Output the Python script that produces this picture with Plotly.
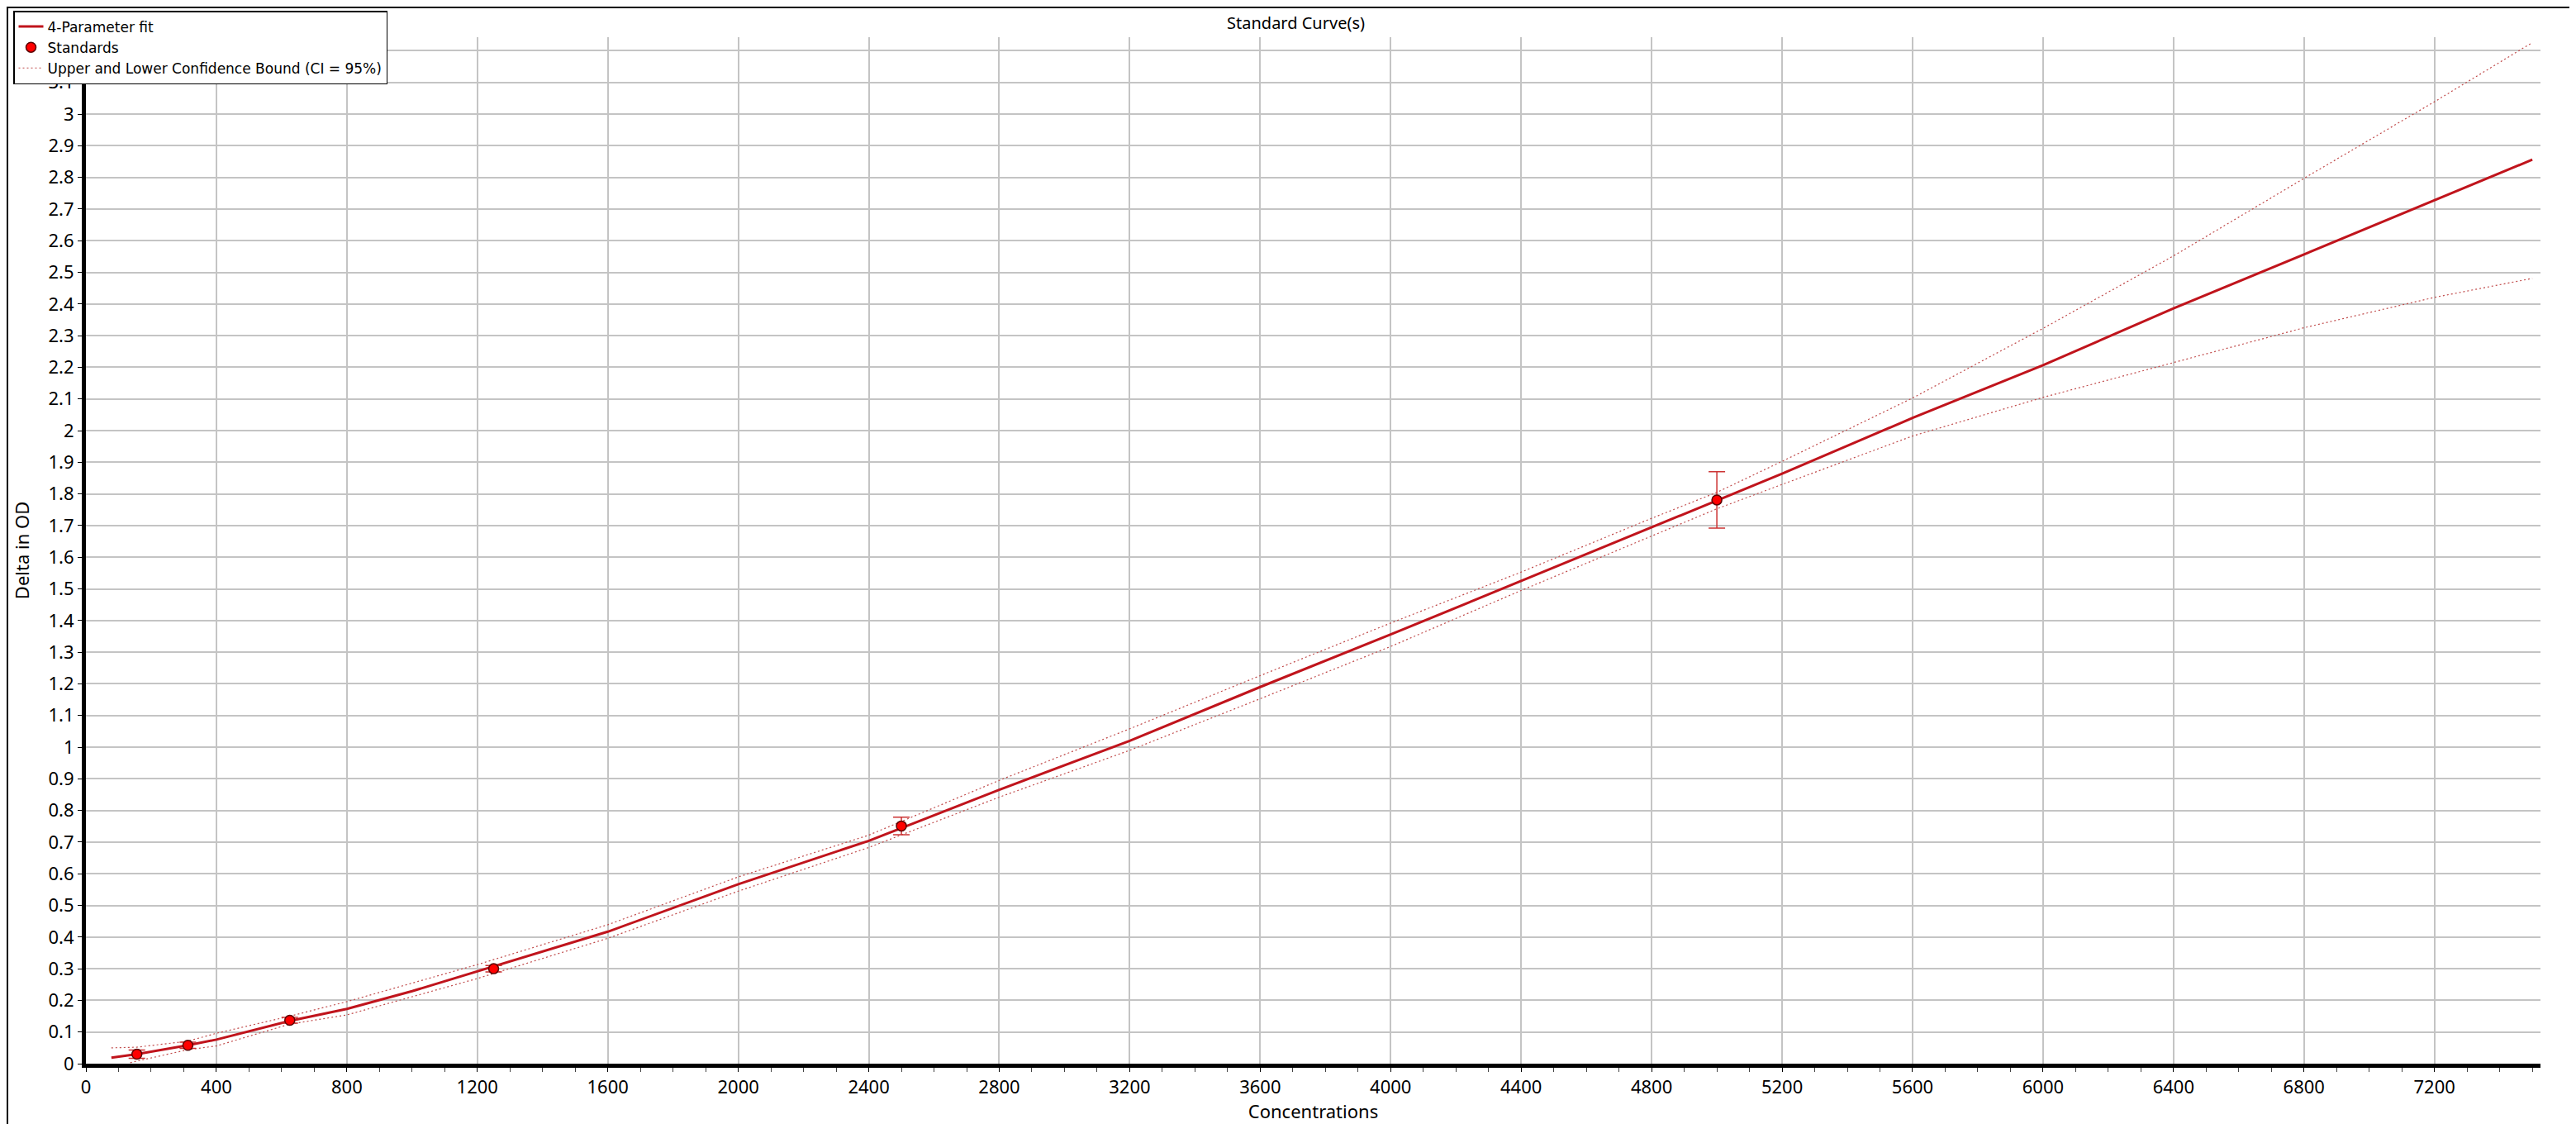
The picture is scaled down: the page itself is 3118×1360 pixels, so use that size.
import plotly.graph_objects as go

# ---- data ----
fit_x = [78, 156, 312, 400, 625, 800, 1000, 1200, 1600, 2000, 2400, 2800, 3200,
         3600, 4000, 4400, 4800, 5000, 5200, 5600, 6000, 6400, 6800, 7200, 7500]
fit_y = [0.019, 0.030, 0.058, 0.076, 0.135, 0.173, 0.229, 0.291, 0.417, 0.567,
         0.704, 0.865, 1.020, 1.190, 1.356, 1.525, 1.695, 1.780, 1.864, 2.040,
         2.207, 2.386, 2.557, 2.727, 2.856]

upper_x = [78, 156, 312, 400, 625, 800, 1200, 1600, 2000, 2400, 2800, 3200,
           3600, 4000, 4400, 4800, 5000, 5200, 5600, 6000, 6400, 6800, 7200, 7500]
upper_y = [0.050, 0.052, 0.071, 0.096, 0.150, 0.196, 0.313, 0.439, 0.590, 0.722,
           0.895, 1.058, 1.226, 1.392, 1.553, 1.723, 1.805, 1.903, 2.103, 2.323,
           2.552, 2.797, 3.039, 3.226]

lower_x = [136, 156, 312, 400, 625, 800, 1200, 1600, 2000, 2400, 2800, 3200,
           3600, 4000, 4400, 4800, 5000, 5200, 5600, 6000, 6400, 6800, 7200, 7500]
lower_y = [0.003, 0.008, 0.044, 0.056, 0.125, 0.154, 0.269, 0.396, 0.545, 0.683,
           0.842, 0.990, 1.153, 1.318, 1.495, 1.668, 1.753, 1.830, 1.983, 2.105,
           2.216, 2.325, 2.421, 2.481]

std_x = [156.25, 312.5, 625, 1250, 2500, 5000]
std_y = [0.030, 0.058, 0.137, 0.300, 0.751, 1.781]
std_err = [0.013, 0.010, 0.009, 0.010, 0.028, 0.089]

x_ticks = [0, 400, 800, 1200, 1600, 2000, 2400, 2800, 3200, 3600, 4000, 4400,
           4800, 5200, 5600, 6000, 6400, 6800, 7200]
y_ticks = [round(i * 0.1, 1) for i in range(33)]
y_labels = [f"{v:g}" for v in y_ticks]

# ---- layout geometry ----
W, H = 3118, 1360
ML, MR, MT, MB = 96, 51, 37, 81
PW, PH = W - ML - MR, H - MT - MB
FONT = "Noto Sans, DejaVu Sans, sans-serif"

FIT_COLOR = "#c0141c"
BOUND_COLOR = "#c04a4a"

fig = go.Figure()

fig.add_trace(go.Scatter(
    x=upper_x, y=upper_y, mode="lines",
    name="Upper and Lower Confidence Bound (CI = 95%)",
    line=dict(color=BOUND_COLOR, width=1.2, dash="2px,3px"),
    legendgroup="ci", legendrank=3))

fig.add_trace(go.Scatter(
    x=lower_x, y=lower_y, mode="lines", name="Lower bound",
    line=dict(color=BOUND_COLOR, width=1.2, dash="2px,3px"),
    legendgroup="ci", showlegend=False))

fig.add_trace(go.Scatter(
    x=fit_x, y=fit_y, mode="lines", name="4-Parameter fit",
    line=dict(color=FIT_COLOR, width=3), legendrank=1))

fig.add_trace(go.Scatter(
    x=std_x, y=std_y, mode="markers", name="Standards",
    marker=dict(color="#ff0000", size=12, line=dict(color="#5a0000", width=1.5)),
    error_y=dict(type="data", array=std_err, visible=True, color="#cc3333",
                 thickness=1.5, width=10),
    legendrank=2))

fig.update_layout(
    width=W, height=H,
    margin=dict(l=ML, r=MR, t=MT, b=MB, pad=0, autoexpand=False),
    paper_bgcolor="white", plot_bgcolor="white",
    font=dict(family=FONT, size=21, color="black"),
    title=dict(text="Standard Curve(s)", x=1537 / W, xref="paper",
               xanchor="center", y=1 - 20 / H, yanchor="middle",
               font=dict(size=20)),
    showlegend=True,
    legend=dict(x=(8 - ML) / PW, y=1 + (MT - 5) / PH, xanchor="left", yanchor="top",
                bgcolor="white", bordercolor="black", borderwidth=1.5,
                font=dict(size=17, family="DejaVu Sans, sans-serif"),
                itemwidth=30, tracegroupgap=0, traceorder="normal"),
    xaxis=dict(range=[0, 7525], tickvals=x_ticks, showgrid=True,
               gridcolor="#c4c4c4", gridwidth=2, zeroline=False,
               showline=True, linecolor="black", linewidth=5,
               ticks="outside", ticklen=5, tickcolor="black", tickwidth=1,
               tickfont=dict(size=22),
               minor=dict(dtick=100, tick0=0, ticks="outside", ticklen=5,
                          tickcolor="#444", tickwidth=1, showgrid=False),
               title=dict(text="Concentrations", font=dict(size=22), standoff=10)),
    yaxis=dict(range=[0, 3.243], tickvals=y_ticks, ticktext=y_labels,
               showgrid=True, gridcolor="#c4c4c4", gridwidth=2, zeroline=False,
               showline=True, linecolor="black", linewidth=5,
               ticks="outside", ticklen=5, tickcolor="black", tickwidth=1,
               tickfont=dict(size=22),
               title=dict(text="Delta in OD", font=dict(size=22), standoff=18)),
    shapes=[dict(type="rect", xref="paper", yref="paper",
                 x0=(1 - ML) / PW, x1=(W - 1 - ML) / PW,
                 y0=-(MB - 1) / PH, y1=1 + (MT - 1) / PH,
                 line=dict(color="black", width=2), fillcolor="rgba(0,0,0,0)",
                 layer="above")],
)

fig.write_html("out.html")
